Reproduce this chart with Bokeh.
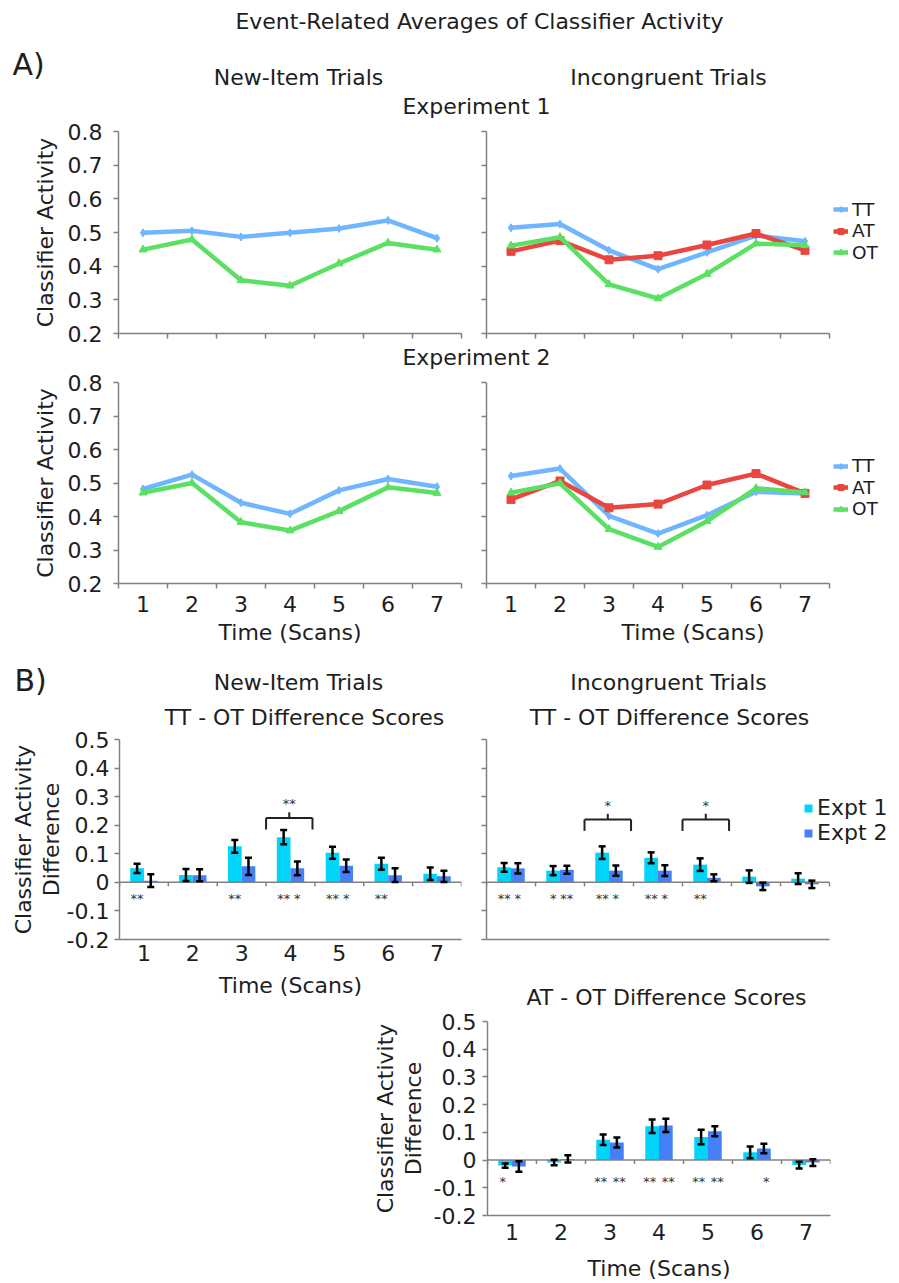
from bokeh.plotting import figure
from bokeh.models import (Range1d, FixedTicker, Label, Legend, LegendItem, Whisker,
                          TeeHead, ColumnDataSource, PrintfTickFormatter)
from bokeh.layouts import column, row
from bokeh.embed import file_html
from bokeh.resources import INLINE
from bokeh.core.properties import value

# ---------------- data ----------------
scans = [1, 2, 3, 4, 5, 6, 7]
line_yticks = [0.2, 0.3, 0.4, 0.5, 0.6, 0.7, 0.8]
bar_yticks = [-0.2, -0.1, 0.0, 0.1, 0.2, 0.3, 0.4, 0.5]

# Experiment 1
e1_new_tt = [0.499, 0.505, 0.487, 0.499, 0.512, 0.536, 0.483]
e1_new_ot = [0.449, 0.479, 0.358, 0.342, 0.408, 0.469, 0.449]
e1_inc_tt = [0.514, 0.525, 0.447, 0.391, 0.441, 0.491, 0.474]
e1_inc_at = [0.444, 0.476, 0.419, 0.431, 0.463, 0.497, 0.447]
e1_inc_ot = [0.461, 0.486, 0.346, 0.304, 0.377, 0.467, 0.462]
# Experiment 2
e2_new_tt = [0.482, 0.525, 0.441, 0.408, 0.478, 0.512, 0.489]
e2_new_ot = [0.471, 0.500, 0.383, 0.358, 0.416, 0.487, 0.470]
e2_inc_tt = [0.521, 0.543, 0.402, 0.349, 0.404, 0.474, 0.469]
e2_inc_at = [0.451, 0.506, 0.426, 0.437, 0.494, 0.528, 0.469]
e2_inc_ot = [0.471, 0.499, 0.362, 0.309, 0.386, 0.484, 0.472]

# B) difference scores
new_ttot_e1 = [0.049, 0.026, 0.126, 0.158, 0.104, 0.065, 0.030]
new_ttot_e1_err = [0.016, 0.021, 0.022, 0.025, 0.021, 0.021, 0.022]
new_ttot_e2 = [0.006, 0.025, 0.056, 0.049, 0.058, 0.025, 0.021]
new_ttot_e2_err = [0.022, 0.021, 0.030, 0.024, 0.022, 0.024, 0.020]
new_ttot_e1_sig = ["**", "", "**", "**", "**", "**", ""]
new_ttot_e2_sig = ["", "", "", "*", "*", "", ""]
new_bracket_scans = [4]
new_bracket_sig = ["**"]

inc_ttot_e1 = [0.0525, 0.041, 0.104, 0.086, 0.062, 0.020, 0.013]
inc_ttot_e1_err = [0.015, 0.016, 0.022, 0.019, 0.022, 0.022, 0.019]
inc_ttot_e2 = [0.049, 0.044, 0.041, 0.041, 0.016, -0.014, -0.007]
inc_ttot_e2_err = [0.018, 0.014, 0.018, 0.019, 0.012, 0.013, 0.013]
inc_ttot_e1_sig = ["**", "*", "**", "**", "**", "", ""]
inc_ttot_e2_sig = ["*", "**", "*", "*", "", "", ""]
inc_bracket_scans = [3, 5]
inc_bracket_sig = ["*", "*"]

inc_atot_e1 = [-0.020, -0.009, 0.073, 0.122, 0.083, 0.028, -0.018]
inc_atot_e1_err = [0.008, 0.010, 0.019, 0.024, 0.026, 0.021, 0.012]
inc_atot_e2 = [-0.023, 0.004, 0.063, 0.125, 0.104, 0.042, -0.009]
inc_atot_e2_err = [0.019, 0.013, 0.018, 0.024, 0.018, 0.017, 0.012]
inc_atot_e1_sig = ["*", "", "**", "**", "**", "", ""]
inc_atot_e2_sig = ["", "", "**", "**", "**", "*", ""]

# ---------------- style ----------------
FONT = "DejaVu Sans"
TXT = "#1e1e1e"
AXC = "#808080"
C_TT = "#6fb5ff"
C_AT = "#e8463f"
C_OT = "#5be064"
C_E1 = "#00d4f8"
C_E2 = "#4680f6"
FS = "22px"
LEG_FS = 18.5
LAB_DY = 8            # baseline correction for Label text
PX_X = 343.0 / 7      # pixels per scan
bounds = [s - 0.5 for s in scans] + [scans[-1] + 0.5]
XB = (bounds[0], bounds[-1])


def base_fig(w, h, l, r, t, b, yr, x_end=7.5):
    p = figure(width=w, height=h, min_border_left=l, min_border_right=r,
               min_border_top=t, min_border_bottom=b,
               x_range=Range1d(0.5, x_end), y_range=Range1d(*yr),
               output_backend="svg", toolbar_location=None, tools="")
    p.xgrid.visible = False
    p.ygrid.visible = False
    p.outline_line_color = None
    return p


def strip(h):
    p = figure(width=899, height=h, x_range=Range1d(0, 899), y_range=Range1d(0, h),
               x_axis_type=None, y_axis_type=None, min_border=0,
               output_backend="svg", toolbar_location=None, tools="")
    p.outline_line_color = None
    return p


def lab(p, text, x, y, size=FS, align="center"):
    p.add_layout(Label(x=x, y=y + LAB_DY, x_units="screen", y_units="screen", text=text,
                       text_font=FONT, text_font_size=size, text_color=TXT,
                       text_align=align, text_baseline="alphabetic"))


def cfg_x(p, labels, minor, standoff=7, title=None, title_standoff=5):
    ax = p.xaxis[0]
    ax.ticker = FixedTicker(ticks=scans if labels else [], minor_ticks=bounds if minor else [])
    ax.bounds = XB
    ax.major_tick_out = 0
    ax.major_tick_in = 0
    ax.minor_tick_out = 5
    ax.minor_tick_in = 0
    ax.minor_tick_line_color = AXC
    ax.minor_tick_line_width = 1.5
    ax.axis_line_color = AXC
    ax.axis_line_width = 1.5
    ax.major_label_text_font = FONT
    ax.major_label_text_font_size = FS
    ax.major_label_text_color = TXT
    ax.major_label_standoff = standoff
    if title:
        ax.axis_label = title
        ax.axis_label_text_font = FONT
        ax.axis_label_text_font_size = FS
        ax.axis_label_text_font_style = "normal"
        ax.axis_label_text_color = TXT
        ax.axis_label_standoff = title_standoff


def cfg_y(p, ticks, labels, standoff=11, title=None, title_standoff=7):
    ay = p.yaxis[0]
    if labels:
        ay.ticker = FixedTicker(ticks=ticks)
        ay.major_tick_out = 5
    else:
        ay.ticker = FixedTicker(ticks=[], minor_ticks=ticks)
        ay.major_tick_out = 0
        ay.minor_tick_out = 5
    ay.bounds = (ticks[0], ticks[-1])
    ay.major_tick_in = 0
    ay.minor_tick_in = 0
    ay.major_tick_line_color = AXC
    ay.minor_tick_line_color = AXC
    ay.major_tick_line_width = 1.5
    ay.minor_tick_line_width = 1.5
    ay.axis_line_color = AXC
    ay.axis_line_width = 1.5
    ay.formatter = PrintfTickFormatter(format="%g")
    ay.major_label_text_font = FONT
    ay.major_label_text_font_size = FS
    ay.major_label_text_color = TXT
    ay.major_label_standoff = standoff if labels else 0
    if title:
        ay.axis_label = title
        ay.axis_label_text_font = FONT
        ay.axis_label_text_font_size = FS
        ay.axis_label_text_font_style = "normal"
        ay.axis_label_text_color = TXT
        ay.axis_label_text_line_height = 1.1
        ay.axis_label_standoff = title_standoff


def line_panel(p, series):
    items = []
    for name, vals, col, mk in series:
        r1 = p.line(scans, vals, line_color=col, line_width=4.5)
        r2 = p.scatter(scans, vals, marker=mk, size=8, fill_color=col, line_color=col)
        items.append(LegendItem(label=name, renderers=[r1, r2]))
    return items


def add_line_legend(p, items, frame_bottom, centers):
    # one single-entry legend per series, so rows can sit as close as in the original
    half = 0.58 * LEG_FS
    for item, cy in zip(items, centers):
        leg = Legend(items=[item], location=(347, frame_bottom - cy - half),
                     border_line_color=None, background_fill_alpha=0, padding=0, margin=0,
                     glyph_width=15, glyph_height=18, label_height=18, label_standoff=4,
                     label_text_font=FONT, label_text_font_size=f"{LEG_FS}px",
                     label_text_color=TXT)
        p.add_layout(leg)


def bar_panel(p, v1, e1, s1, v2, e2, s2, star_y, star_off=0.14,
              br_scans=None, br_sig=None, br_h=0.22):
    x1 = [s - 0.14 for s in scans]
    x2 = [s + 0.14 for s in scans]
    r1 = p.vbar(x=x1, top=v1, bottom=0, width=0.28, fill_color=C_E1, line_color=None)
    r2 = p.vbar(x=x2, top=v2, bottom=0, width=0.28, fill_color=C_E2, line_color=None)
    # zero line with category ticks
    p.segment(x0=[XB[0]], y0=[0], x1=[XB[1]], y1=[0], line_color=AXC, line_width=1.5)
    p.segment(x0=bounds, y0=[0] * len(bounds), x1=bounds, y1=[-0.014] * len(bounds),
              line_color=AXC, line_width=1.5)
    for xs, vs, es in ((x1, v1, e1), (x2, v2, e2)):
        src = ColumnDataSource(dict(x=xs, lo=[v - e for v, e in zip(vs, es)],
                                    hi=[v + e for v, e in zip(vs, es)]))
        w = Whisker(source=src, base="x", lower="lo", upper="hi", line_color="black",
                    line_width=2.5, level="annotation",
                    upper_head=TeeHead(size=7, line_width=2.5, line_color="black"),
                    lower_head=TeeHead(size=7, line_width=2.5, line_color="black"))
        p.add_layout(w)
    for sgn, ss in ((-1, s1), (1, s2)):
        xs = [s + sgn * star_off for s in scans]
        p.text(x=xs, y=[star_y] * len(xs), text=ss, text_font=value(FONT),
               text_font_size="13px", text_align="center", text_baseline="middle",
               text_color="#333333")
    if br_scans:
        xl = [c - 0.5 for c in br_scans]
        xr = [c + 0.45 for c in br_scans]
        xm = [(a + b) / 2 for a, b in zip(xl, xr)]
        n = len(br_scans)
        kw = dict(line_color="#222222", line_width=2)
        p.segment(x0=xl, y0=[br_h] * n, x1=xr, y1=[br_h] * n, **kw)
        p.segment(x0=xl, y0=[br_h] * n, x1=xl, y1=[br_h - 0.04] * n, **kw)
        p.segment(x0=xr, y0=[br_h] * n, x1=xr, y1=[br_h - 0.04] * n, **kw)
        p.segment(x0=xm, y0=[br_h] * n, x1=xm, y1=[br_h + 0.02] * n, **kw)
        p.text(x=xm, y=[br_h + 0.05] * n, text=br_sig, text_font=value(FONT),
               text_font_size="13px", text_align="center", text_baseline="middle",
               text_color="#333333")
    return r1, r2


# ---------------- header strip (A) ----------------
s0 = strip(119)
lab(s0, "Event-Related Averages of Classifier Activity", 479, 90)
lab(s0, "A)", 12, 47, size="30px", align="left")
lab(s0, "New-Item Trials", 298, 34)
lab(s0, "Incongruent Trials", 668, 34)
lab(s0, "Experiment 1", 476, 5)

# right-hand panels have frames running to the page edge (room for legends)
RIGHT_END = 0.5 + (899 - 486) / PX_X

# ---------------- Experiment 1 ----------------
a1 = base_fig(474, 226, 118, 13, 12, 12, (0.2, 0.8))
line_panel(a1, [("TT", e1_new_tt, C_TT, "diamond"), ("OT", e1_new_ot, C_OT, "triangle")])
cfg_x(a1, False, True)
cfg_y(a1, line_yticks, True, title="Classifier Activity")

a2 = base_fig(425, 226, 12, 0, 12, 12, (0.2, 0.8), x_end=RIGHT_END)
it = line_panel(a2, [("TT", e1_inc_tt, C_TT, "diamond"), ("AT", e1_inc_at, C_AT, "square"),
                     ("OT", e1_inc_ot, C_OT, "triangle")])
cfg_x(a2, False, True)
cfg_y(a2, line_yticks, False)
add_line_legend(a2, it, 333, [209, 230.5, 252])

s2 = strip(27)
lab(s2, "Experiment 2", 476, 7)

# ---------------- Experiment 2 ----------------
a3 = base_fig(474, 290, 118, 13, 10, 79, (0.2, 0.8))
line_panel(a3, [("TT", e2_new_tt, C_TT, "diamond"), ("OT", e2_new_ot, C_OT, "triangle")])
cfg_x(a3, True, True, standoff=7, title="Time (Scans)", title_standoff=5)
cfg_y(a3, line_yticks, True, title="Classifier Activity")

a4 = base_fig(425, 290, 12, 0, 10, 79, (0.2, 0.8), x_end=RIGHT_END)
it = line_panel(a4, [("TT", e2_inc_tt, C_TT, "diamond"), ("AT", e2_inc_at, C_AT, "square"),
                     ("OT", e2_inc_ot, C_OT, "triangle")])
cfg_x(a4, True, True, standoff=7, title="Time (Scans)", title_standoff=5)
cfg_y(a4, line_yticks, False)
add_line_legend(a4, it, 583, [465.5, 487, 508.5])

# ---------------- header strip (B) ----------------
s4 = strip(67)
lab(s4, "B)", 14, 41, size="30px", align="left")
lab(s4, "New-Item Trials", 298, 39)
lab(s4, "TT - OT Difference Scores", 304, 4)
lab(s4, "Incongruent Trials", 668, 39)
lab(s4, "TT - OT Difference Scores", 669, 4)

# ---------------- B panels ----------------
b1 = base_fig(474, 282, 119, 13, 10, 72, (-0.2, 0.5))
bar_panel(b1, new_ttot_e1, new_ttot_e1_err, new_ttot_e1_sig,
          new_ttot_e2, new_ttot_e2_err, new_ttot_e2_sig, -0.055,
          br_scans=new_bracket_scans, br_sig=new_bracket_sig, br_h=0.225)
cfg_x(b1, True, False, standoff=5, title="Time (Scans)", title_standoff=9)
cfg_y(b1, bar_yticks, True, standoff=5, title="Classifier Activity\nDifference", title_standoff=0)

# B2 frame extends down to the bottom of its canvas; its x axis sits at -0.2
B2_FRAME_H = 282 - 10
b2_ystart = 0.5 - 0.7 * B2_FRAME_H / 200.0
b2 = base_fig(425, 282, 12, 0, 10, 0, (b2_ystart, 0.5), x_end=RIGHT_END)
r1, r2 = bar_panel(b2, inc_ttot_e1, inc_ttot_e1_err, inc_ttot_e1_sig,
                   inc_ttot_e2, inc_ttot_e2_err, inc_ttot_e2_sig, -0.055,
                   br_scans=inc_bracket_scans, br_sig=inc_bracket_sig, br_h=0.22)
cfg_x(b2, False, False, standoff=0)
b2.xaxis[0].fixed_location = -0.2
cfg_y(b2, bar_yticks, False)
leg = Legend(items=[LegendItem(label="Expt 1", renderers=[r1]),
                    LegendItem(label="Expt 2", renderers=[r2])],
             location=(317, 166), border_line_color=None, background_fill_alpha=0,
             padding=0, margin=0, spacing=0, glyph_width=10, glyph_height=10,
             label_height=10, label_standoff=4, label_text_font=FONT,
             label_text_font_size=FS, label_text_color=TXT)
b2.add_layout(leg)
lab(b2, "AT - OT Difference Scores", 180, 6)

b3 = base_fig(899, 272, 487, 69, 10, 60, (-0.2, 0.5))
bar_panel(b3, inc_atot_e1, inc_atot_e1_err, inc_atot_e1_sig,
          inc_atot_e2, inc_atot_e2_err, inc_atot_e2_sig, -0.079, star_off=0.19)
cfg_x(b3, True, False, standoff=8, title="Time (Scans)", title_standoff=13)
cfg_y(b3, bar_yticks, True, standoff=6, title="Classifier Activity\nDifference", title_standoff=5)

layout = column(row(s0), row(a1, a2), row(s2), row(a3, a4), row(s4),
                row(column(b1), column(b2)), row(b3))
open("out.html", "w").write(file_html(layout, INLINE))
